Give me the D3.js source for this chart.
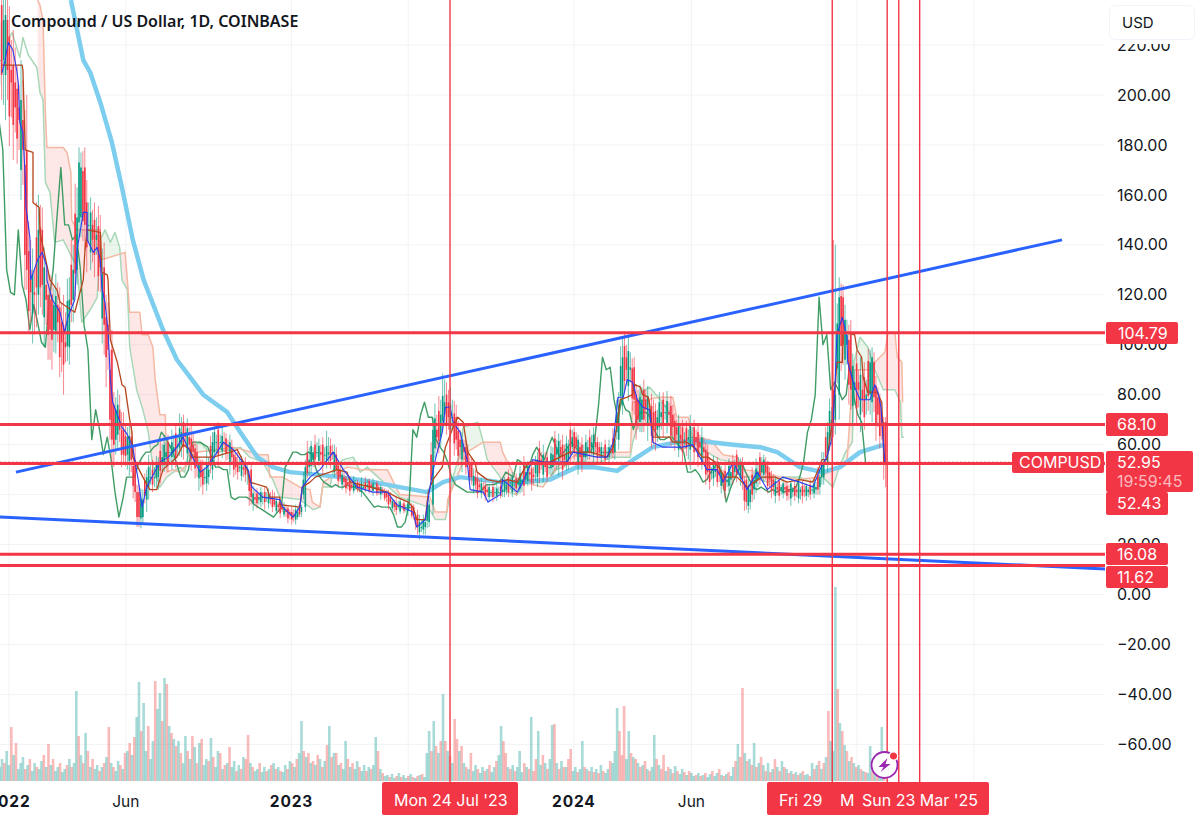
<!DOCTYPE html>
<html>
<head>
<meta charset="utf-8">
<script src="https://cdn.jsdelivr.net/npm/d3@7"></script>
<style>
  html, body { margin: 0; padding: 0; background: #fff; overflow: hidden; }
  text { font-family: Inter, "Noto Sans", sans-serif; }
</style>
</head>
<body>
<div id="d3-container"></div>
<script>
// all days are counted from 1 Jan 2022
const priceTicks = [220, 200, 180, 160, 140, 120, 100, 80, 60, 40, 20, 0, -20, -40, -60];
const timeTickDays = [0, 151, 365, 516, 730, 882, 1096, 1247];
const timeLabels = [
  { day: 0, text: '2022', bold: true },
  { day: 151, text: 'Jun', bold: false },
  { day: 365, text: '2023', bold: true },
  { day: 730, text: '2024', bold: true },
  { day: 882, text: 'Jun', bold: false }
];

// one candle every 5 days, first one on day -12
const closes = [
  214,230,210,205,195,190,178,130,121,120,
  146,124,118,106,116,109,101,99,118,130,
  151,171,148,148,142,144,131,108,98,62,
  74,66,56,63,54,41,31,38,47,47,
  47,52,55,57,57,59,60,65,63,60,
  57,52,47,47,50,61,61,61,60,59,
  55,51,51,50,50,39,38,39,39,39,
  38,36,35,34,33,32,31,33,35,51,
  54,57,57,56,56,57,56,50,47,45,
  44,43,44,43,43,44,43,43,42,41,
  39,37,35,35.5,35,35,35,32,27,27,
  29,36,66,63,72,77,71,71,62,59,
  57,53,47,44,43,42,41,41,41,41,
  42,44,44,44,45,46,49,48,47,54,
  53,51,51,56,59,56,54,59,63,59,
  55,57,59,61,59,57,57,57,57,62,
  76,95,90,91,78,70,78,74,73,66,
  71,73,73,72,67,64,62,62,63,63,
  61,59,57,49,49,50,48,45,46,49,
  51,53,46,37,42,46,49,53,49,46,
  43,42,43,42,41,42,41,42,41,42,
  42,43,47,53,65,70,80,119,100,104,
  82,85,82,78,80,93,79,72,69,53
];
const wickUp = [
  15,8,20,12,14,9,16,22,12,10,
  14,9,8,10,7,9,8,12,9,10,
  12,6,8,9,6,7,8,10,9,8,
  5,6,7,4,5,6,3,4,3,5,
  4,3,5,4,3,5,4,6,3,4,
  5,3,2,4,5,4,3,3,4,2,
  3,2,4,2,3,2,3,2,2,2,
  2,3,1,2,2,1,2,2,1,3,
  5,2,4,3,3,6,3,3,2,2,
  1,2,2,1,2,2,1,2,1,1,
  1,2,1,2,1,1,2,1,2,3,
  2,2,5,6,6,9,5,7,5,4,
  3,3,2,3,2,2,2,1,2,2,
  3,2,3,2,2,3,4,2,3,3,
  3,4,2,3,3,3,4,3,3,2,
  2,3,3,3,3,2,2,2,3,4,
  5,8,5,6,4,4,5,4,4,5,
  3,4,3,4,4,3,4,3,3,4,
  3,3,4,3,2,3,2,2,3,3,
  3,2,2,2,3,3,4,2,2,2,
  2,2,1,2,2,1,2,1,2,1,
  2,2,3,4,4,5,60,8,5,6,
  6,5,5,7,6,5,4,4,3,2
];
const wickDown = [
  10,18,12,14,10,12,14,8,12,16,
  8,12,10,12,9,8,12,6,7,9,
  6,8,10,7,9,6,10,12,8,9,
  6,5,4,6,5,4,4,3,5,3,
  4,5,3,4,5,4,3,5,4,5,
  4,5,4,3,3,4,5,3,3,5,
  3,3,2,3,6,3,2,2,3,2,
  2,1,2,1,2,2,2,1,2,2,
  3,3,2,4,3,3,2,2,2,2,
  2,1,1,2,1,1,2,1,2,1,
  2,1,2,1,1,2,1,2,3,2,
  3,2,4,5,4,4,5,5,4,5,
  3,2,3,2,2,2,2,2,2,1,
  2,2,2,3,2,4,2,3,3,4,
  3,2,3,3,6,4,3,4,3,4,
  3,2,3,3,2,2,2,3,2,3,
  4,4,6,5,6,4,5,6,5,6,
  5,5,3,4,4,3,4,3,8,4,
  4,3,4,3,3,2,3,3,2,3,
  3,3,4,3,3,4,3,3,3,3,
  3,2,2,2,3,2,2,3,2,2,
  2,2,3,3,4,5,6,10,8,8,
  8,6,7,5,6,8,6,5,7,10
];
// candle half way between two closes: half its body, negative means a down candle
const midSwings = [
  -14,12,-16,-12,-10,14,-18,-12,8,-10,
  -12,10,-8,-9,7,-10,-8,9,-8,-12,
  12,-10,-9,8,-7,-10,9,-8,-10,-8,
  6,-5,-4,5,-4,-5,4,-3,4,-3,
  3,-4,4,-4,3,-5,4,-5,5,-4,
  -4,3,-3,4,-4,4,-5,3,-3,4,
  -3,-2,3,-2,-3,2,-2,2,-2,2,
  -2,2,-2,1.5,-2,-1.5,2,-2,3,-4,
  4,-3,3,-4,3,-3,4,-3,2,-2,
  -2,2,-1.5,2,-1.5,-2,1.5,-2,1.5,-1.5,
  -2,1.5,-1.5,2,-1.5,1.5,-2,-1.5,2,2,
  3,-5,6,-6,5,-6,5,-6,-5,4,
  -4,-3,2,-3,2,-2,2,-2,1.5,-2,
  2,-3,3,-2,3,-4,3,-3,2,-5,
  4,-4,3,-5,4,-5,4,-5,-4,5,
  -4,3,-3,4,-3,2,-3,2,-3,4,
  6,-7,7,-6,-6,5,-6,6,-6,-5,
  5,-5,5,-6,-4,5,-5,-4,5,-5,
  -5,5,-5,-4,3,-4,3,-4,4,-3,
  -4,3,-4,4,-4,3,-4,3,-4,-3,
  3,-3,2,-2,3,-2,3,-2,2,-2,
  2,-3,3,-4,6,-7,9,-10,8,-9,
  8,-9,8,-8,-7,9,-8,-7,-8
];

// one volume bar every 3 days from day -12, negative means a down day
const volumes = [
  14,22,-18,30,16,-54,26,-38,12,18,24,-12,16,-22,10,18,-14,12,20,-26,
  14,-37,16,-22,10,14,-18,9,12,-16,22,-14,18,90,-45,26,-18,48,-30,14,
  -22,12,16,-10,14,-18,24,-54,18,-14,10,20,-16,12,-28,30,-38,26,-44,64,
  99,-50,78,30,-55,22,40,-100,72,88,-60,103,-97,55,-48,42,-35,40,-28,18,
  45,-30,22,-45,34,-18,38,-42,16,22,-20,43,-24,14,30,-28,12,-16,18,-34,
  14,20,-10,16,-12,24,-22,-46,18,-14,10,12,-18,9,14,-10,12,-16,18,-12,
  14,-10,9,16,-12,20,-18,14,-22,28,60,-30,24,-28,18,-20,16,-26,22,-14,
  20,-36,55,-24,28,-28,16,-18,12,40,-22,14,-18,12,20,-14,10,16,-10,14,
  -12,16,44,-30,12,-8,5,6,-4,7,3,-5,8,-4,6,3,-5,7,-4,3,
  -5,6,-7,4,28,50,-30,60,-35,28,-40,87,-40,30,-25,18,-62,-42,30,-35,
  18,-14,12,-28,10,16,-12,8,14,-10,12,-16,9,14,-20,26,55,-40,-28,14,
  -12,16,-10,14,30,9,-18,14,-12,64,-10,-22,50,16,-26,18,-12,22,56,-57,
  18,-12,20,-14,14,-22,-32,10,14,-9,12,40,-14,12,-10,14,-9,12,-8,16,
  -10,8,12,-20,18,30,73,-50,-26,-75,22,50,-28,24,-22,18,-14,16,-20,12,
  -10,14,46,-22,16,-12,-26,10,-14,12,-8,15,-10,7,12,-9,6,-10,8,5,
  -6,8,-5,6,-8,4,7,-10,5,8,-12,6,-5,7,-9,5,14,-20,37,-24,
  -93,28,-20,22,-16,38,-14,18,-24,16,-10,18,-9,12,-22,14,-10,20,-14,12,
  -8,10,-7,9,-6,8,-10,6,7,-5,18,-12,16,-20,12,-18,24,-70,40,30,
  194,-92,58,-50,36,-30,20,-24,18,-14,16,-12,10,-9,8,35,-10,12,-8,10,
  54,-12
];

const smaDays = [80,88,96,105,118,133,146,160,174,199,217,234,251,282,299,321,341,363,398,428,463,505,540,561,583,635,664,699,734,755,786,807,832,863,893,936,971,993,1022,1052,1074,1100,1126,1132];
const smaValues = [238,226,214,209,197,181,163,142,126,106,94,87,80,73,65,55,51,49,48,47,45.5,43,41,45,47,45,45,46,51,51,49.5,54,59,61,61.5,60,59,57,51,49,51,57,59.5,60];

const kijunDays = [-9,17,18,21,31,31,39,40,53,62,66,85,96,98,101,118,120,127,128,131,140,146,150,156,159,160,173,182,191,199,217,225,234,238,264,286,295,308,311,333,337,350,350,376,379,389,396,424,437,441,467,489,501,516,522,527,538,542,548,560,564,574,580,587,593,602,605,618,635,644,657,667,673,699,725,751,773,781,787,790,799,806,809,816,819,826,828,832,845,854,858,876,889,896,903,913,925,941,954,973,990,1006,1022,1039,1046,1051,1057,1065,1070,1077,1078,1093,1096,1102,1104,1110,1122,1128,1131];
const kijunValues = [212,212,210,178,177,157,155,145,126,122,117,113,126,137,146,145,129,128,126,102,93,84,83,70,65,55,47,42,42,50,55,60,58,55,55,57,58,50,45,43,39,39,36,35,43,45,47,50,49,45,43,41,39,37,35,30,30,41,46,51,59,67,71,69,57,53,49,46,45,46,45,51,53,53,57,57,55,59,70,78,79,80,84,83,80,79,76,63,63,63,61,61,58,55,55,53,47,47,43,47,47,45,46,45,50,54,54,71,93,93,105,104,98,95,87,81,81,77,53];

const tenkanDays = [-9,-5,-1,5,10,12,14,18,21,22,27,28,37,43,49,49,56,66,72,76,85,88,96,101,101,109,114,118,120,124,128,131,134,146,153,160,163,167,172,178,195,206,217,225,234,247,256,269,277,290,309,314,328,350,354,367,376,379,389,402,419,432,450,470,489,501,522,527,538,544,551,560,564,570,574,583,592,596,613,619,635,638,657,664,677,690,721,729,760,773,781,787,794,799,806,812,819,828,832,845,871,884,893,902,915,923,936,954,967,980,1000,1022,1039,1048,1057,1064,1068,1070,1077,1083,1084,1093,1100,1113,1119,1123,1127,1130,1132];
const tenkanValues = [209,214,221,218,210,205,189,185,167,155,143,126,134,137,131,126,118,113,105,111,118,138,153,153,142,137,139,134,123,117,106,86,77,67,64,59,53,46,35,43,53,55,59,63,57,49,51,57,61,58,50,43,39,38,35,31,35,43,47,50,57,50,43,41,41,36,33,27,30,43,54,65,75,75,69,65,54,42,41,37,40,46,41,45,54,53,53,57,55,55,61,79,79,86,85,78,75,74,61,59,59,60,55,50,50,45,53,42,49,42,47,45,43,50,55,63,87,104,111,103,93,83,78,78,84,81,75,61,53];

const leadADays = [-3,4,14,18,25,36,40,44,47,53,59,70,88,94,105,114,118,124,131,137,143,146,153,156,165,173,180,186,195,204,221,227,234,247,256,269,286,299,311,328,341,350,376,393,402,405,415,419,432,445,454,463,505,542,551,564,567,574,583,587,606,613,618,635,644,657,664,673,695,708,729,764,781,803,806,812,816,828,839,854,858,871,884,902,919,936,945,962,980,1000,1022,1035,1052,1065,1071,1081,1090,1092,1100,1110,1119,1130,1145,1152,1154,1157];
const leadAValues = [221,225,215,223,216,211,201,198,165,161,141,142,131,109,114,119,142,146,141,145,139,126,122,99,82,74,65,51,43,47,51,49,59,61,58,57,58,59,55,53,46,39,38,34,35,43,43,50,54,55,49,51,39,35,30,30,35,47,57,67,69,61,54,47,41,40,45,45,45,50,53,53,55,55,61,67,81,83,79,73,62,58,61,57,54,53,47,47,45,47,47,45,47,43,49,57,61,93,103,99,90,82,82,77,63,63];

const leadBDays = [37,40,44,47,49,70,75,80,81,88,118,120,150,153,156,169,172,180,186,189,195,202,204,212,221,243,290,324,335,337,354,376,389,392,402,406,437,456,489,505,544,551,566,567,592,613,635,638,654,663,677,690,708,738,773,803,806,841,858,863,878,883,906,923,941,949,975,997,1022,1044,1077,1083,1091,1117,1119,1132,1136,1145,1148,1154,1155];
const leadBValues = [238,236,230,193,179,179,177,169,150,146,146,134,137,126,113,113,104,104,99,86,72,72,49,50,49,57,59,56,56,47,47,43,42,37,35,45,51,50,50,40,39,33,33,38,57,61,61,57,47,45,44,43,51,57,57,57,77,79,79,71,71,63,62,56,55,50,49,47,46,47,51,53,90,90,93,97,105,105,95,93,77];

const horizontalLevels = [104.79, 68.10, 52.43, 16.08, 11.62];
const lastPrice = 52.95;
const verticalDays = [570, 1064, 1135, 1150, 1177];
const trendDays = [[9, 1361], [-12, 1417]];
const trendValues = [[49, 142], [31, 10.2]];

const width = 1200;
const height = 819;
const plotRight = 1105;
const volumeBase = 781;

const svg = d3.select('#d3-container')
  .append('svg')
  .attr('width', width)
  .attr('height', height)
  .attr('viewBox', [0, 0, width, height])
  .style('display', 'block');

const x = d3.scaleLinear().domain([0, 1096]).range([9, 857]);
const y = d3.scaleLinear().domain([0, 200]).range([594.5, 95]);
const volY = d3.scaleLinear().domain([0, 200]).range([volumeBase, volumeBase - 200]);

const red = '#f23645';
const line = d3.line().x(d => x(d[0])).y(d => y(d[1]));

function drawSeries(days, values, color, w) {
  svg.append('path')
    .attr('d', line(days.map((d, i) => [d, values[i]])))
    .attr('fill', 'none')
    .attr('stroke', color)
    .attr('stroke-width', w)
    .attr('stroke-linejoin', 'round');
}

// grid
svg.append('g').selectAll('line').data(priceTicks).join('line')
  .attr('x1', 0).attr('x2', plotRight)
  .attr('y1', d => y(d)).attr('y2', d => y(d))
  .attr('stroke', '#f2f3f5').attr('stroke-width', 1);
svg.append('g').selectAll('line').data(timeTickDays).join('line')
  .attr('x1', d => x(d)).attr('x2', d => x(d))
  .attr('y1', 0).attr('y2', volumeBase)
  .attr('stroke', '#f2f3f5').attr('stroke-width', 1);

// cloud, both edges are read on a merged list of days
const allDays = Array.from(new Set(leadADays.concat(leadBDays))).sort(d3.ascending)
  .filter(d => d >= leadBDays[0] && d <= leadBDays[leadBDays.length - 1]);
const aAt = d3.scaleLinear().domain(leadADays).range(leadAValues);
const bAt = d3.scaleLinear().domain(leadBDays).range(leadBValues);
svg.append('path')
  .attr('d', d3.area().x(d => x(d)).y0(d => y(bAt(d))).y1(d => y(Math.max(aAt(d), bAt(d))))(allDays))
  .attr('fill', '#43a047').attr('fill-opacity', 0.11);
svg.append('path')
  .attr('d', d3.area().x(d => x(d)).y0(d => y(bAt(d))).y1(d => y(Math.min(aAt(d), bAt(d))))(allDays))
  .attr('fill', '#f44336').attr('fill-opacity', 0.12);
drawSeries(leadADays, leadAValues, '#a9d8b8', 1.5);
drawSeries(leadBDays, leadBValues, '#f4b9a4', 1.5);

// volume
svg.append('g').selectAll('rect').data(volumes).join('rect')
  .attr('x', (d, i) => x(-12 + 3 * i) - 1.3)
  .attr('width', 2.6)
  .attr('y', d => volY(Math.abs(d)))
  .attr('height', d => volumeBase - volY(Math.abs(d)))
  .attr('fill', d => d > 0 ? '#26a69a' : '#ef5350')
  .attr('fill-opacity', 0.4);

// 200 day average
drawSeries(smaDays, smaValues, '#7ccdee', 4.5);

// lagging line is the close moved back 26 days
const chikou = closes.map((c, i) => [-12 + 5 * i - 26, c]).slice(5);
drawSeries(chikou.map(d => d[0]), chikou.map(d => d[1]), '#3f9c64', 1.4);

// candles
const candles = closes.map((c, i) => {
  const o = i > 0 ? closes[i - 1] : c;
  return { day: -12 + 5 * i, o, c, h: Math.max(o, c) + wickUp[i], l: Math.min(o, c) - wickDown[i] };
});
midSwings.forEach((s, i) => {
  const mid = (closes[i] + closes[i + 1]) / 2;
  const o = mid - s;
  const c = mid + s;
  candles.push({ day: -9.5 + 5 * i, o, c, h: Math.max(o, c) + wickUp[i + 1], l: Math.min(o, c) - wickDown[i] });
});
const candleColor = d => d.c >= d.o ? '#089981' : red;
svg.append('g').selectAll('line').data(candles).join('line')
  .attr('x1', d => x(d.day)).attr('x2', d => x(d.day))
  .attr('y1', d => y(d.h)).attr('y2', d => y(d.l))
  .attr('stroke', candleColor).attr('stroke-opacity', 0.6).attr('stroke-width', 1);
svg.append('g').selectAll('rect').data(candles).join('rect')
  .attr('x', d => x(d.day) - 0.8)
  .attr('width', 1.6)
  .attr('y', d => y(Math.max(d.o, d.c)))
  .attr('height', d => Math.max(1, Math.abs(y(d.o) - y(d.c))))
  .attr('fill', candleColor);

drawSeries(kijunDays, kijunValues, '#b5461c', 1.3);
drawSeries(tenkanDays, tenkanValues, '#2a3cf0', 1.1);

// drawn trend lines
trendDays.forEach((t, i) => drawSeries(t, trendValues[i], '#2962ff', 3));

// drawn levels
svg.append('g').selectAll('line').data(horizontalLevels).join('line')
  .attr('x1', 0).attr('x2', plotRight)
  .attr('y1', d => y(d)).attr('y2', d => y(d))
  .attr('stroke', red).attr('stroke-width', 3);
svg.append('line')
  .attr('x1', 0).attr('x2', plotRight)
  .attr('y1', y(lastPrice)).attr('y2', y(lastPrice))
  .attr('stroke', red).attr('stroke-width', 1).attr('stroke-dasharray', '2 2');
svg.append('g').selectAll('line').data(verticalDays).join('line')
  .attr('x1', d => x(d)).attr('x2', d => x(d))
  .attr('y1', 0).attr('y2', 782)
  .attr('stroke', red).attr('stroke-width', 1.4);

// lightning badge
const bolt = svg.append('g').attr('transform', 'translate(884.5,765)');
bolt.append('circle').attr('r', 13).attr('fill', '#fff').attr('stroke', '#9c27b0').attr('stroke-width', 1.8);
bolt.append('path').attr('d', 'M3,-7 L-6,2 L-1,2 L-4,7 L6,-1 L1,-1 Z').attr('fill', '#9c27b0');
bolt.append('circle').attr('cx', 9).attr('cy', -9).attr('r', 4.2).attr('fill', red).attr('stroke', '#fff').attr('stroke-width', 1.2);

// price scale, the 40.00 label sits fully behind the price labels so it is not written
svg.append('rect').attr('x', plotRight).attr('y', 0).attr('width', width - plotRight).attr('height', height).attr('fill', '#fff');
const axisY = svg.append('g')
  .attr('transform', `translate(${plotRight + 12},0)`)
  .call(d3.axisRight(y).tickValues(priceTicks.filter(d => d !== 40)).tickSize(0).tickPadding(0)
    .tickFormat(d => d3.format('.2f')(d).replace('-', '\u2212')));
axisY.select('.domain').remove();
axisY.selectAll('text').attr('font-size', 16).attr('fill', '#131722').style('font-family', 'Inter, sans-serif');

// time scale
svg.append('rect').attr('x', 0).attr('y', 782).attr('width', plotRight).attr('height', height - 782).attr('fill', '#fff');
svg.append('g').selectAll('text').data(timeLabels).join('text')
  .attr('x', d => x(d.day))
  .attr('y', 807)
  .attr('text-anchor', 'middle')
  .attr('font-size', 15.5)
  .attr('font-weight', d => d.bold ? 700 : 400)
  .attr('letter-spacing', d => d.bold ? 0.8 : 0)
  .attr('fill', '#131722')
  .text(d => d.text);

function badge(bx, by, bw, bh) {
  svg.append('rect').attr('x', bx).attr('y', by).attr('width', bw).attr('height', bh).attr('rx', 2).attr('fill', red);
}
function badgeText(tx, ty, s, color) {
  svg.append('text').attr('x', tx).attr('y', ty).attr('font-size', 16).attr('fill', color || '#fff').text(s);
}

// date labels
badge(382, 782, 136, 33);
badgeText(394, 806, "Mon 24 Jul '23");
badge(767, 782, 222, 33);
badgeText(779, 806, 'Fri 29');
badgeText(840, 806, 'M');
badgeText(862, 806, "Sun 23 Mar '25");

// price labels
badge(1106, 322, 72, 22); badgeText(1118, 339, '104.79');
badge(1106, 413, 62, 23); badgeText(1117, 430, '68.10');
badge(1012, 452, 92, 21); badgeText(1019, 468, 'COMPUSD');
badge(1106, 451, 87, 41); badgeText(1117, 468, '52.95'); badgeText(1117, 487, '19:59:45', '#fbb9bf');
badge(1106, 492, 62, 23); badgeText(1117, 509, '52.43');
badge(1106, 543, 62, 22); badgeText(1117, 560, '16.08');
badge(1106, 566, 62, 22); badgeText(1117, 583, '11.62');

// currency button and title, the button hides the top of the 220.00 label
svg.append('rect').attr('x', plotRight).attr('y', 0).attr('width', width - plotRight).attr('height', 44).attr('fill', '#fff');
svg.append('rect').attr('x', 1109.5).attr('y', 5.5).attr('width', 85).attr('height', 34).attr('rx', 6)
  .attr('fill', '#fff').attr('stroke', '#f0f3fa');
svg.append('text').attr('x', 1122).attr('y', 28).attr('font-size', 15).attr('fill', '#131722').text('USD');
svg.append('text').attr('x', 11).attr('y', 27).attr('font-size', 16).attr('font-weight', 600)
  .attr('fill', '#131722').style('font-family', '"Noto Sans", sans-serif')
  .text('Compound / US Dollar, 1D, COINBASE');
</script>
</body>
</html>
